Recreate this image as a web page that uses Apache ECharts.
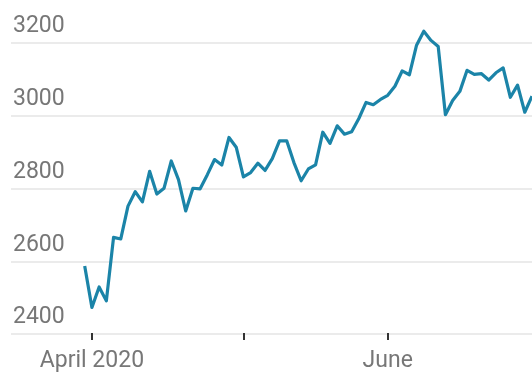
<!DOCTYPE html>
<html>
<head>
<meta charset="utf-8">
<style>
  html, body { margin: 0; padding: 0; background: #fff; }
  #chart { width: 532px; height: 373px; }
</style>
<script src="https://cdn.jsdelivr.net/npm/echarts@6/dist/echarts.min.js"></script>
</head>
<body>
<div id="chart"></div>
<script>
  // trading days, 31 Mar – 29 Jun 2020
  const dates = [
    '2020-03-31',
    '2020-04-01', '2020-04-02', '2020-04-03', '2020-04-06', '2020-04-07', '2020-04-08', '2020-04-09',
    '2020-04-13', '2020-04-14', '2020-04-15', '2020-04-16', '2020-04-17', '2020-04-20', '2020-04-21',
    '2020-04-22', '2020-04-23', '2020-04-24', '2020-04-27', '2020-04-28', '2020-04-29', '2020-04-30',
    '2020-05-01', '2020-05-04', '2020-05-05', '2020-05-06', '2020-05-07', '2020-05-08', '2020-05-11',
    '2020-05-12', '2020-05-13', '2020-05-14', '2020-05-15', '2020-05-18', '2020-05-19', '2020-05-20',
    '2020-05-21', '2020-05-22', '2020-05-26', '2020-05-27', '2020-05-28', '2020-05-29',
    '2020-06-01', '2020-06-02', '2020-06-03', '2020-06-04', '2020-06-05', '2020-06-08', '2020-06-09',
    '2020-06-10', '2020-06-11', '2020-06-12', '2020-06-15', '2020-06-16', '2020-06-17', '2020-06-18',
    '2020-06-19', '2020-06-22', '2020-06-23', '2020-06-24', '2020-06-25', '2020-06-26', '2020-06-29'
  ];

  const closes = [
    2584.59,
    2470.50, 2526.90, 2488.65, 2663.68, 2659.41, 2749.98, 2789.82,
    2761.63, 2846.06, 2783.36, 2799.55, 2874.56, 2823.16, 2736.56,
    2799.31, 2797.80, 2836.74, 2878.48, 2863.39, 2939.51, 2912.43,
    2830.71, 2842.74, 2868.44, 2848.42, 2881.19, 2929.80, 2930.32,
    2870.12, 2820.00, 2852.50, 2863.70, 2953.91, 2922.94, 2971.61,
    2948.51, 2955.45, 2991.77, 3036.13, 3029.73, 3044.31,
    3055.73, 3080.82, 3122.87, 3112.35, 3193.93, 3232.39, 3207.18,
    3190.14, 3002.10, 3041.31, 3066.59, 3124.74, 3113.49, 3115.34,
    3097.74, 3117.86, 3131.29, 3050.33, 3083.76, 3009.05, 3053.24
  ];

  // dates that get a tick, and the text under them
  const tickDates = ['2020-04-01', '2020-05-01', '2020-06-01'];
  const tickLabels = { '2020-04-01': 'April 2020', '2020-06-01': 'June' };

  const Y_MIN = 2400, Y_MAX = 3200, Y_STEP = 200;

  const chart = echarts.init(document.getElementById('chart'));

  chart.setOption({
    animation: false,
    backgroundColor: '#fff',
    grid: [
      // full-width grid for the horizontal rules and their labels
      { left: 11, right: 0, top: 43, bottom: 39 },
      // grid for the line itself
      { left: 84.7, right: -3.4, top: 43, bottom: 39 }
    ],
    xAxis: [
      { gridIndex: 0, type: 'value', min: 0, max: 1, show: false },
      {
        gridIndex: 1,
        type: 'category',
        data: dates,
        boundaryGap: false,
        axisLine: { show: false },
        axisTick: {
          show: true,
          alignWithLabel: true,
          length: 7,
          lineStyle: { color: '#333', width: 2 },
          interval: (i, v) => tickDates.includes(v)
        },
        axisLabel: {
          interval: (i, v) => v in tickLabels,
          formatter: v => tickLabels[v] || '',
          color: '#777',
          fontFamily: 'Roboto',
          fontSize: 23,
          margin: 17
        },
        splitLine: { show: false }
      }
    ],
    yAxis: [
      {
        gridIndex: 0,
        type: 'value',
        min: Y_MIN,
        max: Y_MAX,
        interval: Y_STEP,
        axisLine: { show: false },
        axisTick: { show: false },
        axisLabel: {
          inside: true,
          margin: 2,
          verticalAlign: 'bottom',
          padding: [0, 0, 5, 0],
          formatter: v => String(v),
          color: '#777',
          fontFamily: 'Roboto',
          fontSize: 23
        },
        splitLine: { lineStyle: { color: '#e4e4e4', width: 1.5 } }
      },
      {
        gridIndex: 1,
        type: 'value',
        min: Y_MIN,
        max: Y_MAX,
        show: false
      }
    ],
    series: [
      {
        type: 'line',
        xAxisIndex: 1,
        yAxisIndex: 1,
        data: closes,
        symbol: 'none',
        clip: false,
        lineStyle: { color: '#1b84a8', width: 3.2, join: 'round' }
      }
    ]
  });
</script>
</body>
</html>
